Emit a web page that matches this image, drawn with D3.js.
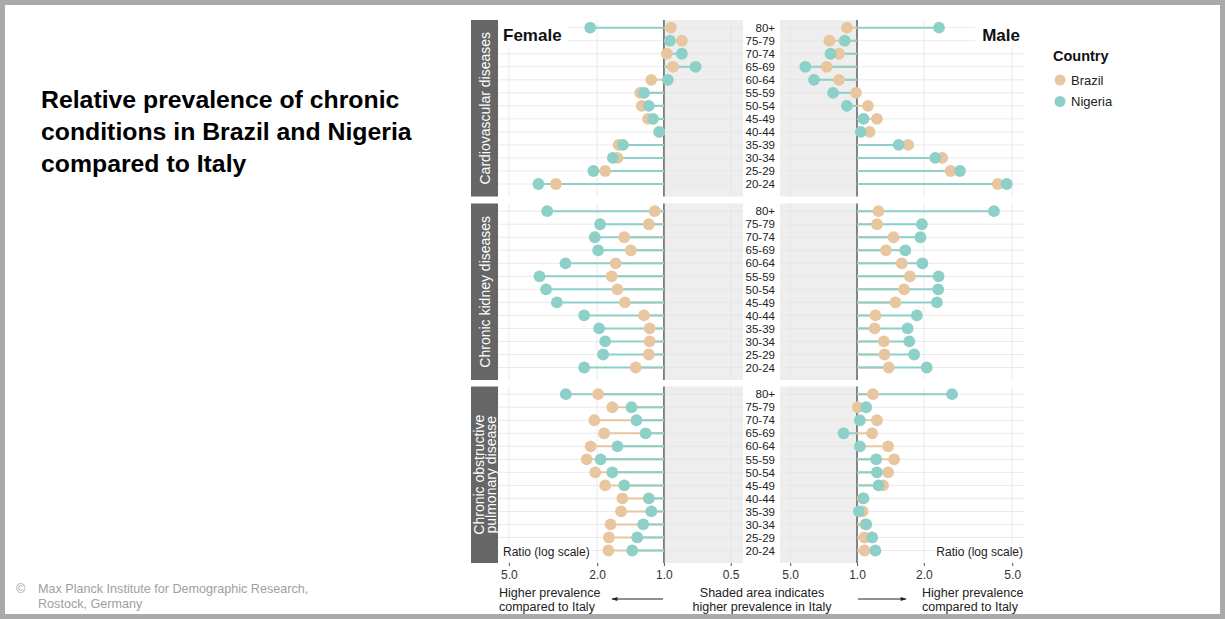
<!DOCTYPE html>
<html>
<head>
<meta charset="utf-8">
<script src="https://cdn.jsdelivr.net/npm/d3@7"></script>
<style>
    body { margin: 0; background: #fff; }
    svg { display: block; font-family: "Liberation Sans", Arial, sans-serif; }
</style>
</head>
<body>
<div id="chart"></div>
<script>
// Age groups, top to bottom
const ages = ['80+', '75-79', '70-74', '65-69', '60-64', '55-59', '50-54', '45-49', '40-44', '35-39', '30-34', '25-29', '20-24'];
const conditions = ['Cardiovascular diseases', 'Chronic kidney diseases', 'Chronic obstructive pulmonary disease'];
const countries = ['Brazil', 'Nigeria'];

// Ratios to Italy
const cvdFemaleBrazil  = [0.93, 0.83, 0.97, 0.91, 1.14, 1.28, 1.26, 1.18, 1.05, 1.60, 1.62, 1.84, 3.07];
const cvdFemaleNigeria = [2.15, 0.94, 0.83, 0.72, 0.96, 1.23, 1.17, 1.12, 1.05, 1.53, 1.70, 2.08, 3.68];
const cvdMaleBrazil    = [0.90, 0.75, 0.83, 0.73, 0.83, 0.99, 1.12, 1.23, 1.14, 1.70, 2.42, 2.64, 4.30];
const cvdMaleNigeria   = [2.34, 0.88, 0.76, 0.585, 0.64, 0.78, 0.90, 1.07, 1.04, 1.54, 2.25, 2.91, 4.72];

const ckdFemaleBrazil  = [1.10, 1.17, 1.51, 1.41, 1.65, 1.72, 1.62, 1.50, 1.23, 1.16, 1.16, 1.17, 1.34];
const ckdFemaleNigeria = [3.36, 1.94, 2.05, 1.98, 2.78, 3.64, 3.40, 3.04, 2.29, 1.96, 1.84, 1.88, 2.29];
const ckdMaleBrazil    = [1.25, 1.23, 1.46, 1.35, 1.59, 1.73, 1.63, 1.49, 1.21, 1.20, 1.32, 1.33, 1.39];
const ckdMaleNigeria   = [4.14, 1.96, 1.93, 1.65, 1.97, 2.33, 2.32, 2.29, 1.86, 1.69, 1.72, 1.81, 2.06];

const copdFemaleBrazil  = [1.98, 1.71, 2.06, 1.86, 2.14, 2.23, 2.04, 1.84, 1.54, 1.56, 1.74, 1.77, 1.78];
const copdFemaleNigeria = [2.77, 1.40, 1.33, 1.21, 1.62, 1.93, 1.71, 1.51, 1.17, 1.14, 1.24, 1.32, 1.39];
const copdMaleBrazil    = [1.18, 1.01, 1.23, 1.17, 1.38, 1.47, 1.38, 1.31, 1.06, 1.06, 1.09, 1.08, 1.08];
const copdMaleNigeria   = [2.68, 1.10, 1.03, 0.87, 1.03, 1.22, 1.23, 1.25, 1.07, 1.02, 1.10, 1.17, 1.21];

// Axis ticks
const tickValues = [5, 2, 1, 0.5];
const femaleTickLabels = ['5.0', '2.0', '1.0', '0.5'];
const maleTickValues = [0.5, 1, 2, 5];
const maleTickLabels = ['5.0', '1.0', '2.0', '5.0'];

const series = [
    { female: [cvdFemaleBrazil, cvdFemaleNigeria], male: [cvdMaleBrazil, cvdMaleNigeria] },
    { female: [ckdFemaleBrazil, ckdFemaleNigeria], male: [ckdMaleBrazil, ckdMaleNigeria] },
    { female: [copdFemaleBrazil, copdFemaleNigeria], male: [copdMaleBrazil, copdMaleNigeria] }
];

const colors = { Brazil: '#e8c7a0', Nigeria: '#8dd0c8' };
const W = 1225, H = 619;

const svg = d3.select('#chart').append('svg')
    .attr('width', W)
    .attr('height', H);

svg.append('rect').attr('width', W).attr('height', H).attr('fill', '#fff');

// Log scales, female mirrored
const xF = d3.scaleLog().domain([5.6, 0.44]).range([498, 743]);
const xM = d3.scaleLog().domain([0.45, 5.65]).range([780, 1024]);

const panelTops = [20, 203.5, 386.5];
const panelH = 176.5;

// Title
const title = ['Relative prevalence of chronic', 'conditions in Brazil and Nigeria', 'compared to Italy'];
svg.append('text')
    .attr('x', 41).attr('y', 108)
    .attr('font-size', 24.8).attr('font-weight', 'bold').attr('fill', '#000')
    .selectAll('tspan').data(title).enter().append('tspan')
    .attr('x', 41).attr('dy', (d, i) => i === 0 ? 0 : 32)
    .text(d => d);

// Copyright
const credit = svg.append('g').attr('font-size', 12.6).attr('fill', '#a0a0a0');
credit.append('text').attr('x', 16).attr('y', 593).text('©');
credit.append('text').attr('x', 38).attr('y', 593).text('Max Planck Institute for Demographic Research,');
credit.append('text').attr('x', 38).attr('y', 608).text('Rostock, Germany');

function drawSide(g, x, y, top, shadeFrom, shadeTo, ticks) {
    const [x0, x1] = x.range().slice().sort((a, b) => a - b);
    g.append('rect')
        .attr('x', shadeFrom).attr('y', top)
        .attr('width', shadeTo - shadeFrom).attr('height', panelH)
        .attr('fill', '#eeeeee');

    g.selectAll('.hgrid').data(ages).enter().append('line')
        .attr('x1', x0).attr('x2', x1)
        .attr('y1', d => y(d)).attr('y2', d => y(d))
        .attr('stroke', '#e4e4e4').attr('stroke-width', 0.8);

    g.selectAll('.vgrid').data(ticks.filter(t => t !== 1)).enter().append('line')
        .attr('x1', d => x(d)).attr('x2', d => x(d))
        .attr('y1', top).attr('y2', top + panelH)
        .attr('stroke', '#e4e4e4').attr('stroke-width', 0.8);
}

function drawMarks(g, x, data, y, top) {
    g.append('line')
        .attr('x1', x(1)).attr('x2', x(1))
        .attr('y1', top).attr('y2', top + panelH)
        .attr('stroke', '#555').attr('stroke-width', 1.4);

    // Segments from 1.0 to each value, Nigeria on top
    countries.forEach((c, ci) => {
        g.selectAll('.seg-' + c).data(data[ci]).enter().append('line')
            .attr('x1', x(1)).attr('x2', d => x(d))
            .attr('y1', (d, i) => y(ages[i])).attr('y2', (d, i) => y(ages[i]))
            .attr('stroke', colors[c]).attr('stroke-width', 2);
    });
    countries.forEach((c, ci) => {
        g.selectAll('.pt-' + c).data(data[ci]).enter().append('circle')
            .attr('cx', d => x(d))
            .attr('cy', (d, i) => y(ages[i]))
            .attr('r', 5.9)
            .attr('fill', colors[c]);
    });
}

conditions.forEach((cond, k) => {
    const top = panelTops[k];
    const y = d3.scalePoint().domain(ages).range([top + 7.7, top + 164]);
    const g = svg.append('g');

    drawSide(g, xF, y, top, xF(1), 743, tickValues);
    drawSide(g, xM, y, top, 780, xM(1), maleTickValues);

    // White boxes behind panel labels
    if (k === 0) {
        g.append('rect').attr('x', 499).attr('y', 21).attr('width', 69).attr('height', 27).attr('fill', '#fff');
        g.append('rect').attr('x', 975).attr('y', 21).attr('width', 49).attr('height', 27).attr('fill', '#fff');
        g.append('text').attr('x', 503).attr('y', 41).attr('font-size', 17).attr('font-weight', 'bold').attr('fill', '#111').text('Female');
        g.append('text').attr('x', 1020).attr('y', 41).attr('text-anchor', 'end').attr('font-size', 17).attr('font-weight', 'bold').attr('fill', '#111').text('Male');
    }
    if (k === 2) {
        g.append('rect').attr('x', 499).attr('y', 543).attr('width', 92).attr('height', 17).attr('fill', '#fff');
        g.append('rect').attr('x', 935).attr('y', 543).attr('width', 90).attr('height', 17).attr('fill', '#fff');
        g.append('text').attr('x', 503).attr('y', 556).attr('font-size', 12).attr('fill', '#222').text('Ratio (log scale)');
        g.append('text').attr('x', 1023).attr('y', 556).attr('text-anchor', 'end').attr('font-size', 12).attr('fill', '#222').text('Ratio (log scale)');
    }

    drawMarks(g, xF, series[k].female, y, top);
    drawMarks(g, xM, series[k].male, y, top);

    // Age labels between the panels
    const ageAxis = g.append('g')
        .attr('transform', 'translate(780,0)')
        .call(d3.axisLeft(y).tickSize(0).tickPadding(5));
    ageAxis.select('.domain').remove();
    ageAxis.selectAll('text').attr('font-size', 11.5).attr('fill', '#222')
        .attr('font-family', '"Liberation Sans", Arial, sans-serif');

    // Facet strip
    g.append('rect')
        .attr('x', 471).attr('y', top)
        .attr('width', 27).attr('height', panelH)
        .attr('fill', '#666');
    const lines = k === 2 ? ['Chronic obstructive', 'pulmonary disease'] : [cond];
    const cy = top + panelH / 2;
    lines.forEach((line, li) => {
        const cx = lines.length === 1 ? 485 : 479 + li * 12;
        g.append('text')
            .attr('transform', `translate(${cx},${cy}) rotate(-90)`)
            .attr('text-anchor', 'middle').attr('dy', '0.35em')
            .attr('font-size', 14).attr('fill', '#fff')
            .text(line);
    });
});

// Bottom axes
const axisY = 563;
const fAxis = svg.append('g').attr('transform', `translate(0,${axisY})`)
    .call(d3.axisBottom(xF).tickValues(tickValues).tickFormat((d, i) => femaleTickLabels[i]).tickSize(3).tickPadding(4));
const mAxis = svg.append('g').attr('transform', `translate(0,${axisY})`)
    .call(d3.axisBottom(xM).tickValues(maleTickValues).tickFormat((d, i) => maleTickLabels[i]).tickSize(3).tickPadding(4));
[fAxis, mAxis].forEach(a => {
    a.select('.domain').remove();
    a.selectAll('line').attr('stroke', '#555');
    a.selectAll('text').attr('font-size', 12).attr('fill', '#333')
        .attr('font-family', '"Liberation Sans", Arial, sans-serif');
});

// Legend
const legend = svg.append('g');
legend.append('text').attr('x', 1053).attr('y', 61).attr('font-size', 14.5).attr('font-weight', 'bold').attr('fill', '#111').text('Country');
countries.forEach((c, i) => {
    legend.append('circle').attr('cx', 1060).attr('cy', 80 + i * 21.5).attr('r', 5.5).attr('fill', colors[c]);
    legend.append('text').attr('x', 1071).attr('y', 80 + i * 21.5).attr('dy', '0.35em')
        .attr('font-size', 13).attr('fill', '#222').text(c);
});

// Annotations under the axes
svg.append('defs').append('marker')
    .attr('id', 'arrow').attr('viewBox', '0 0 10 10')
    .attr('refX', 9).attr('refY', 5)
    .attr('markerWidth', 8).attr('markerHeight', 6)
    .attr('orient', 'auto')
    .append('path').attr('d', 'M0,1.5L10,5L0,8.5Z').attr('fill', '#222');

const note = svg.append('g').attr('font-size', 12.5).attr('fill', '#222');
const addNote = (x, anchor, rows) => {
    note.append('text').attr('x', x).attr('y', 597).attr('text-anchor', anchor)
        .selectAll('tspan').data(rows).enter().append('tspan')
        .attr('x', x).attr('dy', (d, i) => i === 0 ? 0 : 14)
        .text(d => d);
};
addNote(499, 'start', ['Higher prevalence', 'compared to Italy']);
addNote(762, 'middle', ['Shaded area indicates', 'higher prevalence in Italy']);
addNote(922, 'start', ['Higher prevalence', 'compared to Italy']);

svg.append('line').attr('x1', 663).attr('x2', 612).attr('y1', 599).attr('y2', 599)
    .attr('stroke', '#222').attr('stroke-width', 1).attr('marker-end', 'url(#arrow)');
svg.append('line').attr('x1', 858).attr('x2', 906).attr('y1', 599).attr('y2', 599)
    .attr('stroke', '#222').attr('stroke-width', 1).attr('marker-end', 'url(#arrow)');

// Outer frame
svg.append('rect')
    .attr('x', 2.5).attr('y', 2.5)
    .attr('width', W - 5).attr('height', H - 5)
    .attr('fill', 'none').attr('stroke', '#aaaaaa').attr('stroke-width', 5);
</script>
</body>
</html>
